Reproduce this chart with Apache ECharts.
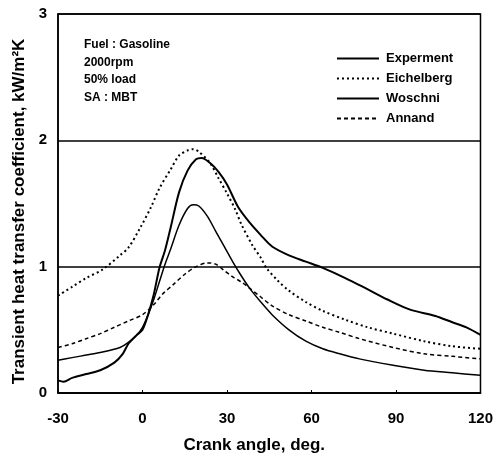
<!DOCTYPE html>
<html>
<head>
<meta charset="utf-8">
<script src="https://cdn.jsdelivr.net/npm/echarts@6/dist/echarts.min.js"></script>
<style>html,body{margin:0;padding:0;background:#fff;}#c{width:496px;height:459px;}</style>
</head>
<body>
<div id="c"></div>
<script>
// Crank angle (deg) and transient heat transfer coefficient (kW/m2K)
var expAngle = [-30,-28,-25,-20,-15,-10,-7,-5,-2,0,2,4,6,8,10,13,16,19,21,24,27,30,34,38,42,46,52,58,64,72,80,87,95,104,110,115,120];
var expValue = [0.10,0.09,0.12,0.15,0.18,0.24,0.31,0.39,0.46,0.50,0.62,0.78,0.99,1.13,1.31,1.59,1.76,1.85,1.86,1.82,1.75,1.65,1.47,1.35,1.25,1.16,1.09,1.04,0.99,0.91,0.82,0.74,0.66,0.61,0.56,0.52,0.46];

var eicAngle = [-30,-25,-20,-14,-8,-5,-1,3,6,10,13,16,18,20,24,27,30,33,35,39,42,44,48,52,58,64,72,80,89,100,110,120];
var eicValue = [0.77,0.84,0.91,0.98,1.09,1.15,1.30,1.47,1.62,1.77,1.88,1.92,1.93,1.91,1.82,1.70,1.58,1.45,1.34,1.17,1.07,0.99,0.89,0.81,0.72,0.65,0.58,0.52,0.47,0.41,0.37,0.35];

var wosAngle = [-30,-25,-20,-15,-8,-5,-2,0,2,4,6,8,10,13,16,18,20,23,26,29,32,35,38,42,46,52,58,64,70,77,89,100,110,120];
var wosValue = [0.26,0.28,0.30,0.32,0.36,0.40,0.46,0.52,0.62,0.74,0.88,1.02,1.14,1.33,1.46,1.49,1.48,1.40,1.28,1.16,1.04,0.93,0.83,0.72,0.62,0.50,0.41,0.35,0.31,0.27,0.22,0.18,0.16,0.14];

var annAngle = [-30,-25,-20,-15,-10,-5,0,4,7,11,15,19,23,26,29,32,35,38,42,46,52,58,64,70,77,89,100,110,120];
var annValue = [0.36,0.39,0.43,0.47,0.52,0.57,0.62,0.70,0.78,0.86,0.94,1.00,1.03,1.02,0.97,0.92,0.88,0.83,0.76,0.69,0.62,0.57,0.52,0.48,0.43,0.36,0.31,0.29,0.27];

var seriesNames = ['Experment','Eichelberg','Woschni','Annand'];
var xTicks = [-30,0,30,60,90,120];
var yTicks = [0,1,2,3];
var noteLines = ['Fuel : Gasoline','2000rpm','50% load','SA : MBT'];

function pairs(a, v){ return a.map(function(x,i){ return [x, v[i]]; }); }

var chart = echarts.init(document.getElementById('c'), null, {renderer:'canvas'});
var font = 'Liberation Sans, Arial, sans-serif';
chart.setOption({
  animation:false,
  backgroundColor:'#fff',
  textStyle:{fontFamily:font, color:'#000'},
  grid:{left:58, right:15, top:14, bottom:63, show:true, borderColor:'#000', borderWidth:1.5},
  legend:{
    orient:'vertical', left:331, top:47, itemWidth:42, itemHeight:10, itemGap:7,
    itemStyle:{opacity:0},
    textStyle:{fontFamily:font, fontSize:13, fontWeight:'bold', color:'#000', padding:[0,0,0,2]},
    data:seriesNames
  },
  graphic:noteLines.map(function(t,i){
    return {type:'text', left:84, top:39+i*17.5, style:{text:t, fontFamily:font, fontSize:12, fontWeight:'bold', fill:'#000'}};
  }),
  xAxis:{
    type:'value', min:-30, max:120, interval:30,
    name:'Crank angle, deg.', nameLocation:'middle', nameGap:44,
    nameTextStyle:{fontFamily:font, fontSize:17, fontWeight:'bold', color:'#000', padding:[0,30,0,0]},
    axisLine:{show:true, onZero:false, lineStyle:{color:'#000', width:1.5}},
    axisTick:{show:true, inside:true, length:3, lineStyle:{color:'#000'}},
    axisLabel:{fontFamily:font, fontSize:15, fontWeight:'bold', color:'#000', margin:18,
      formatter:function(v){return xTicks.indexOf(v)>=0 ? String(v) : '';}},
    splitLine:{show:false}
  },
  yAxis:{
    type:'value', min:0, max:3, interval:1,
    name:'Transient heat transfer coefficient, kW/m\u00B2K', nameLocation:'middle', nameGap:29,
    nameTextStyle:{fontFamily:font, fontSize:17, fontWeight:'bold', color:'#000', padding:[0,16,0,0]},
    axisLine:{show:true, onZero:false, lineStyle:{color:'#000', width:1.5}},
    axisTick:{show:false},
    axisLabel:{fontFamily:font, fontSize:15, fontWeight:'bold', color:'#000', margin:11,
      formatter:function(v){return yTicks.indexOf(v)>=0 ? String(v) : '';}},
    splitLine:{show:true, lineStyle:{color:'#000', width:1.5}}
  },
  series:[
    {name:seriesNames[0], type:'line', smooth:0.3, symbol:'none', data:pairs(expAngle, expValue),
      lineStyle:{color:'#000', width:2, type:'solid'}, itemStyle:{color:'#000'}},
    {name:seriesNames[1], type:'line', smooth:0.3, symbol:'none', data:pairs(eicAngle, eicValue),
      lineStyle:{color:'#000', width:2, type:[2,3]}, itemStyle:{color:'#000'}},
    {name:seriesNames[2], type:'line', smooth:0.3, symbol:'none', data:pairs(wosAngle, wosValue),
      lineStyle:{color:'#000', width:1.5, type:'solid'}, itemStyle:{color:'#000'}},
    {name:seriesNames[3], type:'line', smooth:0.3, symbol:'none', data:pairs(annAngle, annValue),
      lineStyle:{color:'#000', width:1.5, type:[4,3]}, itemStyle:{color:'#000'}}
  ]
});
</script>
</body>
</html>
